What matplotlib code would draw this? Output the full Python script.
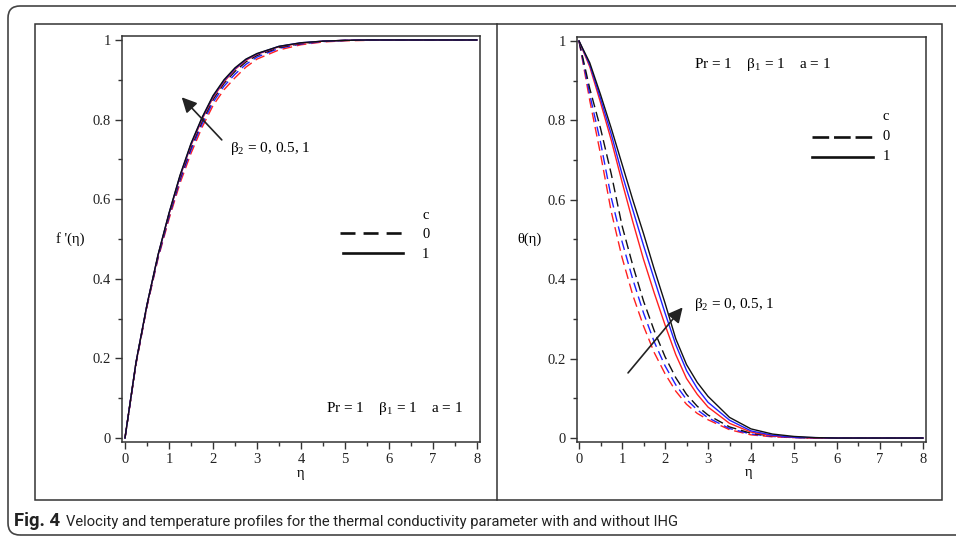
import matplotlib
matplotlib.use('Agg')
import matplotlib.pyplot as plt
from matplotlib.patches import Rectangle, FancyBboxPatch
from matplotlib.lines import Line2D
from matplotlib.ticker import MultipleLocator, FixedLocator, FixedFormatter

# ---------------- data ----------------
eta = [0, 0.25, 0.5, 0.75, 1.0, 1.25, 1.5, 1.75, 2.0, 2.25, 2.5, 2.75, 3.0,
       3.5, 4.0, 4.5, 5.0, 5.5, 6.0, 7.0, 8.0]

# f'(eta) : velocity
f_c0_b0  = [0, 0.185, 0.330, 0.450, 0.550, 0.640, 0.715, 0.780, 0.835, 0.875, 0.905, 0.932, 0.952, 0.975, 0.988, 0.995, 0.998, 0.999, 1.0, 1.0, 1.0]
f_c0_b05 = [0, 0.187, 0.332, 0.453, 0.555, 0.647, 0.723, 0.788, 0.843, 0.884, 0.914, 0.939, 0.957, 0.979, 0.990, 0.996, 0.999, 1.0, 1.0, 1.0, 1.0]
f_c0_b1  = [0, 0.188, 0.333, 0.456, 0.559, 0.652, 0.730, 0.795, 0.850, 0.891, 0.921, 0.945, 0.961, 0.981, 0.991, 0.997, 0.999, 1.0, 1.0, 1.0, 1.0]
f_c1_b0  = [0, 0.189, 0.334, 0.458, 0.562, 0.656, 0.735, 0.800, 0.855, 0.895, 0.926, 0.949, 0.964, 0.983, 0.992, 0.997, 0.999, 1.0, 1.0, 1.0, 1.0]
f_c1_b05 = [0, 0.190, 0.335, 0.459, 0.564, 0.658, 0.738, 0.803, 0.858, 0.898, 0.928, 0.951, 0.965, 0.984, 0.993, 0.997, 0.999, 1.0, 1.0, 1.0, 1.0]
f_c1_b1  = [0, 0.190, 0.335, 0.460, 0.565, 0.660, 0.740, 0.805, 0.860, 0.900, 0.930, 0.952, 0.966, 0.984, 0.993, 0.997, 0.999, 1.0, 1.0, 1.0, 1.0]

# theta(eta) : temperature
t_c0_b0  = [1, 0.850, 0.715, 0.570, 0.455, 0.360, 0.282, 0.215, 0.162, 0.118, 0.085, 0.062, 0.046, 0.021, 0.008, 0.003, 0.001, 0, 0, 0, 0]
t_c0_b05 = [1, 0.865, 0.745, 0.605, 0.495, 0.400, 0.315, 0.242, 0.182, 0.134, 0.097, 0.071, 0.051, 0.024, 0.010, 0.004, 0.001, 0, 0, 0, 0]
t_c0_b1  = [1, 0.880, 0.780, 0.665, 0.535, 0.435, 0.345, 0.270, 0.205, 0.152, 0.110, 0.080, 0.058, 0.028, 0.012, 0.005, 0.002, 0, 0, 0, 0]
t_c1_b0  = [1, 0.935, 0.845, 0.750, 0.645, 0.545, 0.450, 0.365, 0.285, 0.210, 0.150, 0.110, 0.078, 0.037, 0.015, 0.005, 0.002, 0, 0, 0, 0]
t_c1_b05 = [1, 0.940, 0.855, 0.765, 0.665, 0.575, 0.485, 0.400, 0.315, 0.235, 0.170, 0.125, 0.090, 0.045, 0.018, 0.007, 0.002, 0.001, 0, 0, 0]
t_c1_b1  = [1, 0.945, 0.865, 0.780, 0.690, 0.600, 0.515, 0.425, 0.340, 0.250, 0.185, 0.140, 0.105, 0.052, 0.023, 0.010, 0.004, 0.001, 0, 0, 0]

x_ticks = [0, 1, 2, 3, 4, 5, 6, 7, 8]
x_tick_labels = ['0', '1', '2', '3', '4', '5', '6', '7', '8']
y_ticks = [0, 0.2, 0.4, 0.6, 0.8, 1.0]
y_tick_labels = ['0', '0.2', '0.4', '0.6', '0.8', '1']
legend_title = 'c'
legend_labels = ['0', '1']
param_text = 'Pr = 1    $\\mathregular{\\beta_1}$ = 1    a = 1'
beta2_text = '$\\mathregular{\\beta_2}$ = 0, 0.5, 1'
caption_bold = 'Fig. 4'
caption_text = 'Velocity and temperature profiles for the thermal conductivity parameter with and without IHG'

# ---------------- style ----------------
plt.rcParams['font.family'] = ['Liberation Serif', 'DejaVu Serif']
plt.rcParams['mathtext.fontset'] = 'custom'
plt.rcParams['mathtext.rm'] = 'Liberation Serif'
plt.rcParams['mathtext.it'] = 'Liberation Serif:italic'
plt.rcParams['lines.scale_dashes'] = False

W, H = 956, 538
fig = plt.figure(figsize=(W / 100, H / 100), dpi=100)

def fx(px):
    return px / W

def fy(py):
    return 1 - py / H

axL = fig.add_axes([fx(122), fy(442), fx(480) - fx(122), fy(36) - fy(442)])
axR = fig.add_axes([fx(577), fy(442), fx(926) - fx(577), fy(37) - fy(442)])

colors = {'b0': '#ff2020', 'b05': '#2020ff', 'b1': '#111111'}
dash = (0, (7, 3.5))

def style_axis(ax, xlim, ylim):
    ax.set_xlim(*xlim)
    ax.set_ylim(*ylim)
    for s in ax.spines.values():
        s.set_linewidth(1.1)
        s.set_color('#333333')
    ax.xaxis.set_major_locator(FixedLocator(x_ticks))
    ax.xaxis.set_major_formatter(FixedFormatter(x_tick_labels))
    ax.yaxis.set_major_locator(FixedLocator(y_ticks))
    ax.yaxis.set_major_formatter(FixedFormatter(y_tick_labels))
    ax.xaxis.set_minor_locator(MultipleLocator(0.5))
    ax.yaxis.set_minor_locator(MultipleLocator(0.1))
    ax.tick_params(which='major', direction='out', length=5, width=1.0,
                   color='#333333', labelsize=10.5, labelcolor='#222222', pad=3)
    ax.tick_params(which='minor', direction='out', length=3, width=1.0, color='#333333')

# ---- left panel ----
style_axis(axL, (-0.068, 8.07), (-0.010, 1.010))
for data, key in [(f_c0_b0, 'b0'), (f_c0_b05, 'b05'), (f_c0_b1, 'b1')]:
    axL.plot(eta, data, color=colors[key], lw=1.0, linestyle=dash)
for data, key in [(f_c1_b0, 'b0'), (f_c1_b05, 'b05'), (f_c1_b1, 'b1')]:
    axL.plot(eta, data, color=colors[key], lw=1.0, linestyle='-')

axL.plot([4.89, 6.29], [0.514, 0.514], color='#111111', lw=1.9, linestyle=(0, (10.8, 5.8)))
axL.plot([4.95, 6.33], [0.464, 0.464], color='#111111', lw=1.9, linestyle='-')
axL.text(6.84, 0.560, legend_title, ha='center', va='center', fontsize=10.5)
axL.text(6.84, 0.512, legend_labels[0], ha='center', va='center', fontsize=10.5)
axL.text(6.84, 0.462, legend_labels[1], ha='center', va='center', fontsize=10.5)

axL.annotate('', xy=(1.29, 0.856), xytext=(2.2, 0.749),
             arrowprops=dict(arrowstyle='-|>,head_length=0.6,head_width=0.3',
                             color='#222222', lw=1.2, mutation_scale=15,
                             shrinkA=0, shrinkB=0))
axL.text(2.386, 0.719, beta2_text, ha='left', va='baseline', fontsize=11)
axL.text(4.58, 0.065, param_text, ha='left', va='baseline', fontsize=11)
axL.text(-1.25, 0.5, "f '(\u03b7)", ha='center', va='center', fontsize=10.5)
axL.text(4.0, -0.088, '\u03b7', ha='center', va='center', fontsize=10.5)

# ---- right panel ----
style_axis(axR, (-0.047, 8.07), (-0.010, 1.010))
for data, key in [(t_c0_b0, 'b0'), (t_c0_b05, 'b05'), (t_c0_b1, 'b1')]:
    axR.plot(eta, data, color=colors[key], lw=1.0, linestyle=dash)
for data, key in [(t_c1_b0, 'b0'), (t_c1_b05, 'b05'), (t_c1_b1, 'b1')]:
    axR.plot(eta, data, color=colors[key], lw=1.0, linestyle='-')

axR.plot([5.43, 6.81], [0.757, 0.757], color='#111111', lw=1.9, linestyle=(0, (12, 3.5)))
axR.plot([5.43, 6.83], [0.707, 0.707], color='#111111', lw=1.9, linestyle='-')
axR.text(7.14, 0.809, legend_title, ha='center', va='center', fontsize=10.5)
axR.text(7.14, 0.759, legend_labels[0], ha='center', va='center', fontsize=10.5)
axR.text(7.14, 0.709, legend_labels[1], ha='center', va='center', fontsize=10.5)

axR.annotate('', xy=(2.41, 0.329), xytext=(1.14, 0.164),
             arrowprops=dict(arrowstyle='-|>,head_length=0.6,head_width=0.3',
                             color='#222222', lw=1.2, mutation_scale=15,
                             shrinkA=0, shrinkB=0))
axR.text(2.67, 0.327, beta2_text, ha='left', va='baseline', fontsize=11)
axR.text(2.67, 0.933, param_text, ha='left', va='baseline', fontsize=11)
axR.text(-1.16, 0.5, '\u03b8(\u03b7)', ha='center', va='center', fontsize=10.5)
axR.text(3.95, -0.088, '\u03b7', ha='center', va='center', fontsize=10.5)

# ---- frames ----
outer = FancyBboxPatch((0.08, 0.03), 10.0, 5.29,
                       boxstyle='round,pad=0,rounding_size=0.12',
                       transform=fig.dpi_scale_trans, fill=False,
                       edgecolor='#444444', lw=1.2)
fig.add_artist(outer)
inner = Rectangle((fx(35), fy(500)), fx(942) - fx(35), fy(24) - fy(500),
                  transform=fig.transFigure, fill=False, edgecolor='#333333', lw=1.1)
fig.add_artist(inner)
fig.add_artist(Line2D([fx(497), fx(497)], [fy(500), fy(24)],
                      transform=fig.transFigure, color='#333333', lw=1.1))

# ---- caption ----
cap_font = ['Roboto', 'DejaVu Sans']
t_bold = fig.text(fx(14), fy(526), caption_bold, fontweight='bold', fontsize=13.3,
                  family=cap_font, ha='left', va='baseline', color='#222222')
fig.canvas.draw()
bb = t_bold.get_window_extent()
fig.text((bb.x1 + 6) / W, fy(526), caption_text, fontsize=10.65,
         family=cap_font, ha='left', va='baseline', color='#222222')

fig.savefig('out.png', dpi=100)
